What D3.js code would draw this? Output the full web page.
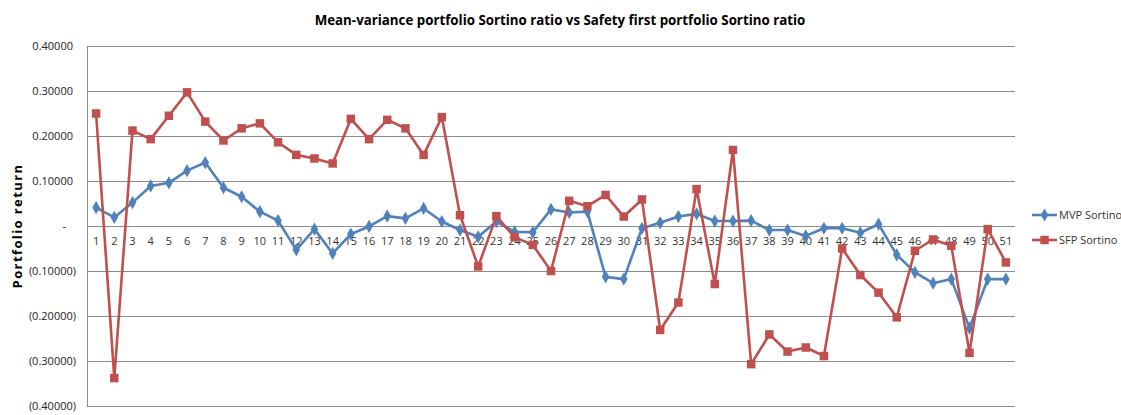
<!DOCTYPE html>
<html>
<head>
<meta charset="utf-8">
<script src="https://cdn.jsdelivr.net/npm/d3@7"></script>
<style>
  body { margin: 0; background: #fff; }
  svg { display: block; font-family: "Open Sans", "Liberation Sans", sans-serif; }
</style>
</head>
<body>
<div id="chart"></div>
<script>
// periods 1..51
var periods = d3.range(1, 52).map(String)

var mvpSortino = [0.041, 0.019, 0.052, 0.089, 0.096, 0.123, 0.141, 0.085, 0.065, 0.032,
    0.012, -0.053, -0.007, -0.061, -0.018, -0.001, 0.022, 0.017, 0.039, 0.010,
    -0.009, -0.024, 0.010, -0.013, -0.014, 0.037, 0.030, 0.032, -0.113, -0.118,
    -0.005, 0.007, 0.021, 0.027, 0.011, 0.011, 0.012, -0.009, -0.009, -0.022,
    -0.005, -0.005, -0.015, 0.004, -0.064, -0.103, -0.127, -0.118, -0.227, -0.118,
    -0.118]

var sfpSortino = [0.250, -0.338, 0.212, 0.193, 0.245, 0.297, 0.232, 0.190, 0.217, 0.228,
    0.186, 0.158, 0.150, 0.139, 0.238, 0.193, 0.236, 0.217, 0.158, 0.242,
    0.024, -0.090, 0.022, -0.025, -0.042, -0.100, 0.056, 0.044, 0.069, 0.021,
    0.059, -0.231, -0.170, 0.082, -0.129, 0.169, -0.307, -0.241, -0.279, -0.270,
    -0.289, -0.050, -0.109, -0.148, -0.203, -0.055, -0.030, -0.044, -0.282, -0.007,
    -0.081]

var yTicks = [0.4, 0.3, 0.2, 0.1, 0, -0.1, -0.2, -0.3, -0.4]

var series = [
    {name: 'MVP Sortino', values: mvpSortino, color: '#4F81BD', symbol: d3.symbolDiamond},
    {name: 'SFP Sortino', values: sfpSortino, color: '#C0504D', symbol: d3.symbolSquare}
]

var width = 1121
var height = 415
var margin = {top: 46, right: 106, bottom: 9, left: 87}

var svg = d3.select('#chart')
    .append('svg')
    .attr('width', width)
    .attr('height', height)

var x = d3.scaleBand().domain(periods).range([margin.left, width - margin.right])
var y = d3.scaleLinear().domain([-0.4, 0.4]).range([height - margin.bottom, margin.top])

function fmt(v) {
    if (Math.abs(v) < 1e-9) return '-'
    var s = Math.abs(v).toFixed(5)
    return v < 0 ? '(' + s + ')' : s
}

// title
svg.append('text')
    .attr('x', 560)
    .attr('y', 25)
    .attr('text-anchor', 'middle')
    .attr('font-size', 13.3)
    .attr('font-weight', 'bold')
    .attr('fill', '#000')
    .text('Mean-variance portfolio Sortino ratio vs Safety first portfolio Sortino ratio')

// gridlines
svg.append('g')
    .selectAll('line')
    .data(yTicks)
    .enter().append('line')
    .attr('x1', margin.left)
    .attr('x2', width - margin.right)
    .attr('y1', d => Math.round(y(d)) + 0.5)
    .attr('y2', d => Math.round(y(d)) + 0.5)
    .attr('stroke', '#8c8c8c')
    .attr('stroke-width', 1)

// left axis line
svg.append('line')
    .attr('x1', margin.left + 0.5)
    .attr('x2', margin.left + 0.5)
    .attr('y1', y(0.4))
    .attr('y2', y(-0.4))
    .attr('stroke', '#8c8c8c')

// y tick labels
svg.append('g')
    .selectAll('text')
    .data(yTicks)
    .enter().append('text')
    .attr('x', d => d < 0 ? 76 : (d === 0 ? 66 : 73))
    .attr('y', d => y(d))
    .attr('dy', '0.35em')
    .attr('text-anchor', 'end')
    .attr('font-size', 11)
    .attr('fill', '#222')
    .text(fmt)

// y axis title
svg.append('text')
    .attr('transform', 'translate(22,' + 226 + ') rotate(-90)')
    .attr('text-anchor', 'middle')
    .attr('font-size', 13)
    .attr('letter-spacing', 1.4)
    .attr('font-weight', 'bold')
    .attr('fill', '#000')
    .text('Portfolio return')

// category labels just under zero line
svg.append('g')
    .selectAll('text')
    .data(periods)
    .enter().append('text')
    .attr('x', d => x(d) + x.bandwidth() / 2)
    .attr('y', y(0) + 19)
    .attr('text-anchor', 'middle')
    .attr('font-size', 11)
    .attr('fill', '#333')
    .text(d => d)

var line = d3.line()
    .x((d, i) => x(periods[i]) + x.bandwidth() / 2)
    .y(d => y(d))

var g = svg.append('g')
    .selectAll('g')
    .data(series)
    .enter().append('g')

g.append('path')
    .attr('d', d => line(d.values))
    .attr('fill', 'none')
    .attr('stroke', d => d.color)
    .attr('stroke-width', 2.6)
    .attr('stroke-linejoin', 'round')

g.each(function(s) {
    d3.select(this).selectAll('path.pt')
        .data(s.values)
        .enter().append('path')
        .attr('class', 'pt')
        .attr('transform', (d, i) => 'translate(' + (x(periods[i]) + x.bandwidth() / 2) + ',' + y(d) + ')')
        .attr('d', d3.symbol().type(s.symbol).size(s.symbol === d3.symbolSquare ? 72 : 50))
        .attr('fill', s.color)
})

// legend
var legend = svg.append('g')
    .selectAll('g')
    .data(series)
    .enter().append('g')
    .attr('transform', (d, i) => 'translate(1032,' + (215 + i * 25) + ')')

legend.append('line')
    .attr('x1', 0)
    .attr('x2', 25)
    .attr('stroke', d => d.color)
    .attr('stroke-width', 2.6)

legend.append('path')
    .attr('transform', 'translate(12.5,0)')
    .attr('d', d => d3.symbol().type(d.symbol).size(d.symbol === d3.symbolSquare ? 72 : 50)())
    .attr('fill', d => d.color)

legend.append('text')
    .attr('x', 27)
    .attr('dy', '0.35em')
    .attr('font-size', 11)
    .attr('fill', '#333')
    .text(d => d.name)
</script>
</body>
</html>
